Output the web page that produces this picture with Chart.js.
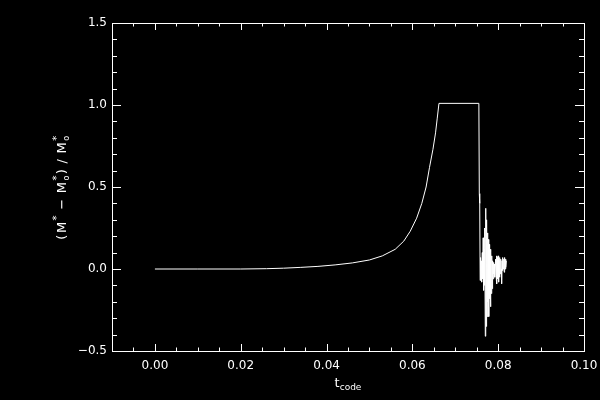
<!DOCTYPE html>
<html>
<head>
<meta charset="utf-8">
<script src="https://cdn.jsdelivr.net/npm/chart.js@4"></script>
<style>
  html, body { margin: 0; padding: 0; background: #000; }
  #wrap { width: 600px; height: 400px; }
</style>
</head>
<body>
<div id="wrap"><canvas id="massChart" width="600" height="400"></canvas></div>
<script>
// t_code values and (M* - M*o)/M*o
const timeCode = [
  0.000, 0.010, 0.020, 0.026, 0.030, 0.034, 0.038, 0.042, 0.046, 0.050,
  0.053, 0.056, 0.058, 0.0595, 0.061, 0.0622, 0.0632, 0.0640, 0.0648, 0.0654,
  0.0658, 0.0662, 0.0755, 0.0756, 0.0757, 0.0758,
  0.0759, 0.0760, 0.0761, 0.0762, 0.0763, 0.0764, 0.0765, 0.0766, 0.0767, 0.0768,
  0.0769, 0.0770, 0.0771, 0.0772, 0.0773, 0.0774, 0.0775, 0.0776, 0.0777, 0.0778,
  0.0779, 0.0780, 0.0781, 0.0782, 0.0783, 0.0784, 0.0785, 0.0786, 0.0787, 0.0788,
  0.0789, 0.0790, 0.0791, 0.0792, 0.0793, 0.0794, 0.0795, 0.0796, 0.0797, 0.0798,
  0.0799, 0.0800, 0.0801, 0.0802, 0.0803, 0.0804, 0.0805, 0.0806, 0.0807, 0.0808,
  0.0809, 0.0810, 0.0811, 0.0812, 0.0813, 0.0814, 0.0815, 0.0816, 0.0817, 0.0818,
  0.0819
];
const massRatio = [
  0.000, 0.000, 0.000, 0.002, 0.005, 0.010, 0.016, 0.025, 0.037, 0.055,
  0.080, 0.120, 0.170, 0.230, 0.310, 0.400, 0.500, 0.620, 0.730, 0.830,
  0.920, 1.010, 1.010, 0.460, 0.400, -0.070,
  0.07, -0.05, 0.05, -0.08, 0.10, -0.06, 0.19, -0.13, 0.12, -0.10,
  0.25, -0.41, 0.37, -0.35, 0.30, -0.29, 0.22, -0.20, 0.18, -0.29,
  0.15, -0.18, 0.12, -0.23, 0.10, -0.15, 0.08, -0.12, 0.05, -0.06,
  0.04, -0.03, 0.03, -0.05, 0.02, 0.06, -0.04, 0.08, -0.09, 0.07,
  -0.06, 0.08, -0.08, 0.05, -0.05, 0.07, -0.03, 0.06, 0.00, -0.09,
  0.05, -0.01, 0.07, 0.00, 0.06, -0.02, 0.07, 0.00, 0.06, 0.01,
  0.05
];
const xTickValues = [0.00, 0.02, 0.04, 0.06, 0.08, 0.10];
const yTickValues = [-0.5, 0.0, 0.5, 1.0, 1.5];

const FONT = "'DejaVu Sans', sans-serif";

// IDL-like frame: white box with inward major/minor ticks on all four sides
const idlFrame = {
  id: "idlFrame",
  beforeDraw(chart) {
    const ctx = chart.ctx;
    ctx.save();
    ctx.fillStyle = "#000";
    ctx.fillRect(0, 0, chart.width, chart.height);
    ctx.restore();
  },
  afterDraw(chart) {
    const ctx = chart.ctx;
    const a = chart.chartArea;
    const xs = chart.scales.x, ys = chart.scales.y;
    ctx.save();
    ctx.strokeStyle = "#fff";
    ctx.lineWidth = 1;
    ctx.strokeRect(a.left + 0.5, a.top + 0.5, a.right - a.left, a.bottom - a.top);

    ctx.beginPath();
    // x ticks, minor every 0.005
    for (let i = 0; i <= 22; i++) {
      const v = xs.min + i * 0.005;
      const px = Math.round(xs.getPixelForValue(v)) + 0.5;
      const major = Math.abs(v / 0.02 - Math.round(v / 0.02)) < 1e-6;
      const len = major ? 7 : 3.5;
      ctx.moveTo(px, a.bottom); ctx.lineTo(px, a.bottom - len);
      ctx.moveTo(px, a.top); ctx.lineTo(px, a.top + len);
    }
    // y ticks, minor every 0.1
    for (let i = 0; i <= 20; i++) {
      const v = ys.min + i * 0.1;
      const py = Math.round(ys.getPixelForValue(v)) + 0.5;
      const major = Math.abs(v / 0.5 - Math.round(v / 0.5)) < 1e-6;
      const len = major ? 9 : 5;
      ctx.moveTo(a.left, py); ctx.lineTo(a.left + len, py);
      ctx.moveTo(a.right, py); ctx.lineTo(a.right - len, py);
    }
    ctx.stroke();

    ctx.fillStyle = "#fff";
    ctx.textBaseline = "alphabetic";

    // x title: t with subscript "code"
    ctx.font = "13px " + FONT;
    const tW = ctx.measureText("t").width;
    ctx.font = "9px " + FONT;
    const subW = ctx.measureText("code").width;
    const cx = (a.left + a.right) / 2;
    let x0 = cx - (tW + subW) / 2;
    ctx.font = "13px " + FONT;
    ctx.textAlign = "left";
    ctx.fillText("t", x0, 387);
    ctx.font = "9px " + FONT;
    ctx.fillText("code", x0 + tW, 390);

    // y title: (M* − M*o) / M*o, rotated
    const parts = [
      ["(", 13, 0], ["M", 13, 0], ["*", 10, -6], [" \u2212 ", 13, 0], ["M", 13, 0], ["*", 10, -6], ["o", 8, 3],
      [")", 13, 0], [" / ", 13, 0], ["M", 13, 0], ["*", 10, -6], ["o", 8, 3]
    ];
    const widths = parts.map(p => {
      ctx.font = p[1] + "px " + FONT;
      return ctx.measureText(p[0]).width;
    });
    // sub follows sup on the same M, so they share one advance
    const adv = parts.map((p, i) => {
      if (p[0] === "*" && parts[i + 1] && parts[i + 1][0] === "o") return 0;
      return widths[i] + 1.5;
    });
    let total = 0;
    adv.forEach(w => total += w);
    ctx.translate(66, (a.top + a.bottom) / 2);
    ctx.rotate(-Math.PI / 2);
    let pos = -total / 2;
    parts.forEach((p, i) => {
      ctx.font = p[1] + "px " + FONT;
      ctx.fillText(p[0], pos, p[2]);
      pos += adv[i];
    });
    ctx.restore();
  }
};

const ctx = document.getElementById("massChart").getContext("2d");
new Chart(ctx, {
  type: "line",
  data: {
    datasets: [{
      data: timeCode.map((t, i) => ({ x: t, y: massRatio[i] })),
      borderColor: "#fff",
      borderWidth: 1,
      pointRadius: 0,
      tension: 0,
      fill: false
    }]
  },
  options: {
    responsive: false,
    animation: false,
    layout: { padding: { top: 23, right: 16, left: 0, bottom: 0 } },
    plugins: { legend: { display: false }, tooltip: { enabled: false } },
    scales: {
      x: {
        type: "linear",
        min: -0.01,
        max: 0.10,
        grid: { display: false, drawTicks: false },
        border: { display: false },
        afterBuildTicks: s => { s.ticks = xTickValues.map(v => ({ value: v })); },
        afterFit: s => { s.height = 49; s.paddingLeft = 0; s.paddingRight = 0; },
        ticks: {
          color: "#fff",
          font: { family: FONT, size: 12 },
          padding: 8,
          maxRotation: 0,
          autoSkip: false,
          callback: v => v.toFixed(2)
        }
      },
      y: {
        min: -0.5,
        max: 1.5,
        grid: { display: false, drawTicks: false },
        border: { display: false },
        afterBuildTicks: s => { s.ticks = yTickValues.map(v => ({ value: v })); },
        afterFit: s => { s.width = 112; s.paddingTop = 0; s.paddingBottom = 0; },
        ticks: {
          color: "#fff",
          font: { family: FONT, size: 12 },
          padding: 5,
          autoSkip: false,
          callback: v => v.toFixed(1).replace("-", "\u2212")
        }
      }
    }
  },
  plugins: [idlFrame]
});
</script>
</body>
</html>
